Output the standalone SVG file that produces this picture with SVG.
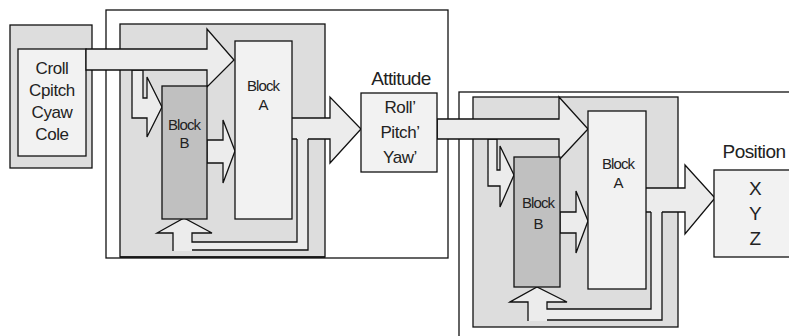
<svg xmlns="http://www.w3.org/2000/svg" width="789" height="336" viewBox="0 0 789 336">
<style>
.ln{stroke:#111;stroke-width:1.3;fill:none;stroke-linejoin:miter}
.frame{fill:#fff;stroke:#111;stroke-width:1.3}
.gray{fill:#dddddd;stroke:#111;stroke-width:1.3}
.light{fill:#f2f2f2;stroke:#111;stroke-width:1.3}
.blkB{fill:#c0c0c0;stroke:#111;stroke-width:1.3}
.af{fill:#ececec;stroke:none}
.arr{fill:#ececec;stroke:#111;stroke-width:1.3;stroke-linejoin:miter}
text{font-family:"Liberation Sans",Arial,sans-serif;fill:#222;text-anchor:middle}
.big{font-size:19px;letter-spacing:-0.6px}
.mid{font-size:17px;letter-spacing:-0.4px}
.sm{font-size:15px;letter-spacing:-0.9px}
</style>

<g id="frames">
  <rect class="frame" x="106" y="10" width="342" height="248"/>
  <rect class="frame" x="459" y="92" width="340" height="260"/>
  <rect class="gray" x="120" y="24" width="205" height="233"/>
  <line class="ln" x1="120" y1="257" x2="325" y2="257" stroke-width="2.2"/>
  <rect class="gray" x="473" y="97" width="205" height="230"/>
</g>

<g id="input">
  <rect class="gray" x="10" y="25" width="82" height="143"/>
  <rect class="light" x="18" y="49" width="68" height="107"/>
  <text class="mid" x="52" y="74">Croll</text>
  <text class="mid" x="52" y="96">Cpitch</text>
  <text class="mid" x="52" y="118">Cyaw</text>
  <text class="mid" x="52" y="140">Cole</text>
</g>

<g id="connectors">
  <!-- left stage -->
  <polygon class="arr" points="132,70 143,70 143,98 147,98 147,77 162,107 147,137 147,118 132,118"/>
  <polygon class="arr" points="86,49 207,49 207,29 234,60 207,87 207,70 86,70"/>
  <polygon class="arr" points="207,140 223,140 223,120 235,151 223,183 223,163 207,163"/>
  <polygon class="af" points="297,138 308,138 308,250 173,251 173,233 157,233 184,218 212,233 192,233 192,242 297,242"/>
  <polyline class="ln" points="297,139 297,242 192,242 192,233 212,233 184,218 157,233 173,233 173,251"/>
  <polyline class="ln" points="308,139 308,250 192,250"/>
  <polygon class="af" points="292,118 330,118 330,97 361,129 330,163 330,139 292,139"/>
  <path class="ln" d="M292,118 H330 V97 L361,129 L330,163 V139 H308 M297,139 H292"/>
  <!-- right stage -->
  <polygon class="arr" points="488,139 497,139 497,170 500,170 500,146 514,175 500,207 500,186 488,186"/>
  <polygon class="arr" points="437,119 559,119 559,97 588,129 559,160 559,139 437,139"/>
  <line class="ln" x1="437" y1="119" x2="437" y2="139" stroke-width="3"/>
  <polygon class="arr" points="560,212 576,212 576,191 588,221 576,253 576,233 560,233"/>
  <polygon class="af" points="651,211 662,211 662,320 528,321 528,302 510,302 537,287 567,302 547,302 547,309 651,309"/>
  <polyline class="ln" points="651,212 651,309 547,309 547,302 567,302 537,287 510,302 528,302 528,321"/>
  <polyline class="ln" points="662,212 662,320 547,320"/>
  <polygon class="af" points="646,188 685,188 685,165 715,198 685,234 685,212 646,212"/>
  <path class="ln" d="M646,188 H685 V165 L715,198 L685,234 V212 H662 M651,212 H646"/>
</g>

<g id="blockA1">
  <rect class="light" x="235" y="41" width="57" height="178"/>
  <text class="sm" x="263" y="91">Block</text>
  <text class="sm" x="263" y="110">A</text>
</g>
<g id="blockB1">
  <rect class="blkB" x="162" y="86" width="45" height="133"/>
  <text class="sm" x="184" y="130">Block</text>
  <text class="sm" x="184" y="148">B</text>
</g>

<g id="attitude">
  <text class="big" x="401" y="85">Attitude</text>
  <rect class="light" x="361" y="93" width="76" height="79"/>
  <text class="mid" x="400" y="113">Roll’</text>
  <text class="mid" x="400" y="138">Pitch’</text>
  <text class="mid" x="400" y="163">Yaw’</text>
</g>

<g id="blockA2">
  <rect class="light" x="588" y="111" width="58" height="178"/>
  <text class="sm" x="618" y="169">Block</text>
  <text class="sm" x="618" y="188">A</text>
</g>
<g id="blockB2">
  <rect class="blkB" x="514" y="157" width="46" height="130"/>
  <text class="sm" x="538" y="208">Block</text>
  <text class="sm" x="538" y="229">B</text>
</g>

<g id="position">
  <text class="big" x="754" y="158">Position</text>
  <rect class="light" x="714" y="170" width="90" height="87"/>
  <text class="big" x="755" y="195">X</text>
  <text class="big" x="755" y="220">Y</text>
  <text class="big" x="755" y="245">Z</text>
</g>
</svg>
